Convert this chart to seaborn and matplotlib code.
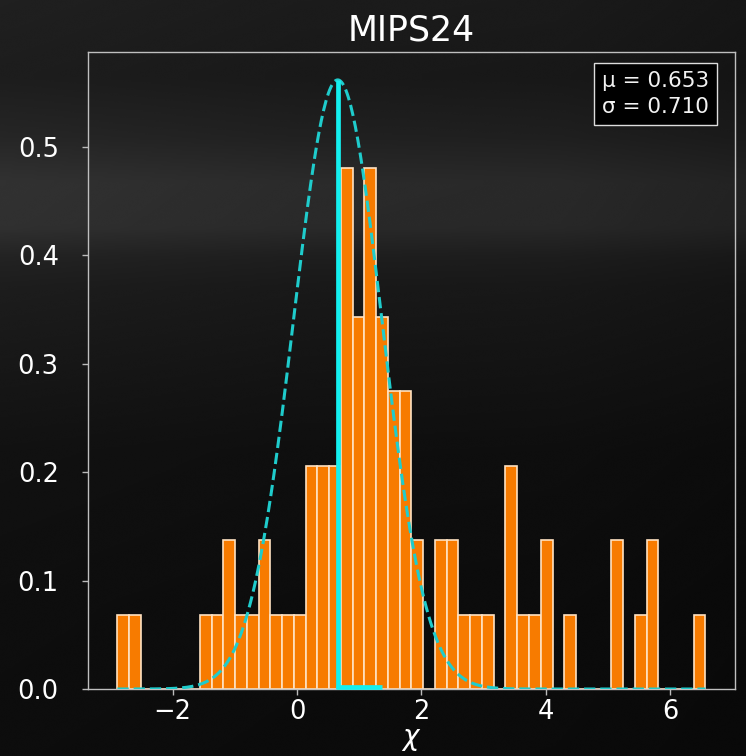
import numpy as np
import seaborn as sns
import matplotlib.pyplot as plt
from matplotlib.transforms import ScaledTranslation

# ---- data ---------------------------------------------------------------
title = "MIPS24"
x_label = r"$\chi$"
mu = 0.653
sigma = 0.710
bin_lo, bin_hi = -2.889, 6.565
n_bins = 50
bin_counts = [1, 1, 0, 0, 0, 0, 0, 1, 1, 2,
              1, 1, 2, 1, 1, 1, 3, 3, 3, 7,
              5, 7, 5, 4, 4, 2, 0, 2, 2, 1,
              1, 1, 0, 3, 1, 1, 2, 0, 1, 0,
              0, 0, 2, 0, 1, 2, 0, 0, 0, 1]
y_ticks = [0.0, 0.1, 0.2, 0.3, 0.4, 0.5]
x_ticks = [-2, 0, 2, 4, 6]

# ---- style --------------------------------------------------------------
sns.set_theme(style="dark")
plt.rcParams["font.family"] = ["DejaVu Sans"]
plt.rcParams["mathtext.fontset"] = "dejavusans"

fig = plt.figure(figsize=(7.46, 7.56), dpi=100)

# dark backdrop behind the whole figure
bg = fig.add_axes([0, 0, 1, 1], zorder=-10)
rows = np.linspace(0, 1, 400)
shade = np.interp(rows,
                  [0.0, 0.10, 0.18, 0.24, 0.30, 0.34, 0.38, 0.46, 0.60, 0.80, 1.0],
                  [0.11, 0.10, 0.13, 0.17, 0.165, 0.12, 0.10, 0.085, 0.06, 0.05, 0.045])
cols = np.linspace(0, 1, 300)
side = np.interp(cols, [0.0, 0.4, 0.75, 1.0], [1.15, 1.0, 0.95, 0.8])
img = np.clip(shade[:, None] * side[None, :], 0, 1)
bg.imshow(img, cmap="gray", vmin=0, vmax=1, aspect="auto",
          extent=[0, 1, 0, 1], origin="upper", interpolation="bicubic")
bg.set_axis_off()

ax = fig.add_axes([0.118, 0.0886, 0.867, 0.8426])
ax.set_facecolor((0, 0, 0, 0))

edges = np.linspace(bin_lo, bin_hi, n_bins + 1)
centers = 0.5 * (edges[:-1] + edges[1:])

sns.histplot(x=centers, weights=bin_counts, bins=n_bins,
             binrange=(bin_lo, bin_hi), stat="density", ax=ax,
             color="#f77b00", edgecolor="#ffe2c2", linewidth=1.2, alpha=1.0)

# fitted Gaussian
xs = np.linspace(bin_lo, bin_hi, 500)
pdf = np.exp(-0.5 * ((xs - mu) / sigma) ** 2) / (sigma * np.sqrt(2 * np.pi))
ax.plot(xs, pdf, ls="--", color="#1fcccc", lw=2.2, zorder=5)

# mean marker and sigma extent
peak = 1.0 / (sigma * np.sqrt(2 * np.pi))
lw_mark = 3.4
ax.plot([mu, mu], [peak, 0], color="#14f0f0", lw=lw_mark, zorder=6,
        solid_capstyle="butt")
lift = ax.transData + ScaledTranslation(0, lw_mark / 2 / 72, fig.dpi_scale_trans)
ax.plot([mu - 0.02, mu + sigma], [0, 0], color="#14f0f0", lw=lw_mark,
        zorder=7, transform=lift, clip_on=False, solid_capstyle="butt")

ax.set_xlim(bin_lo - 0.05 * (bin_hi - bin_lo), bin_hi + 0.05 * (bin_hi - bin_lo))
ax.set_ylim(0, 0.5876)
ax.set_xticks(x_ticks)
ax.set_yticks(y_ticks)
ax.set_xticklabels([f"{t:d}".replace("-", "\u2212") for t in x_ticks])
ax.set_yticklabels([f"{t:.1f}" for t in y_ticks])
ax.tick_params(axis="both", colors="#bbbbbb", labelcolor="white",
               labelsize=18.5, length=4, width=1, direction="out",
               bottom=True, left=True)
ax.tick_params(axis="y", pad=17)
ax.grid(False)
for sp in ax.spines.values():
    sp.set_visible(True)
    sp.set_color("#bfbfbf")
    sp.set_linewidth(1.0)

ax.set_title(title, color="white", fontsize=25, pad=8)
ax.set_xlabel(x_label, color="white", fontsize=20, labelpad=0)
ax.set_ylabel("")

ax.text(0.960, 0.970, f"\u03bc = {mu:.3f}\n\u03c3 = {sigma:.3f}",
        transform=ax.transAxes, ha="right", va="top", color="#f2f2f2",
        fontsize=15.5, linespacing=1.35,
        bbox=dict(boxstyle="square,pad=0.38", facecolor="black",
                  edgecolor="#dddddd", linewidth=1.0))

fig.savefig("out.png", dpi=100, facecolor="#111111")
